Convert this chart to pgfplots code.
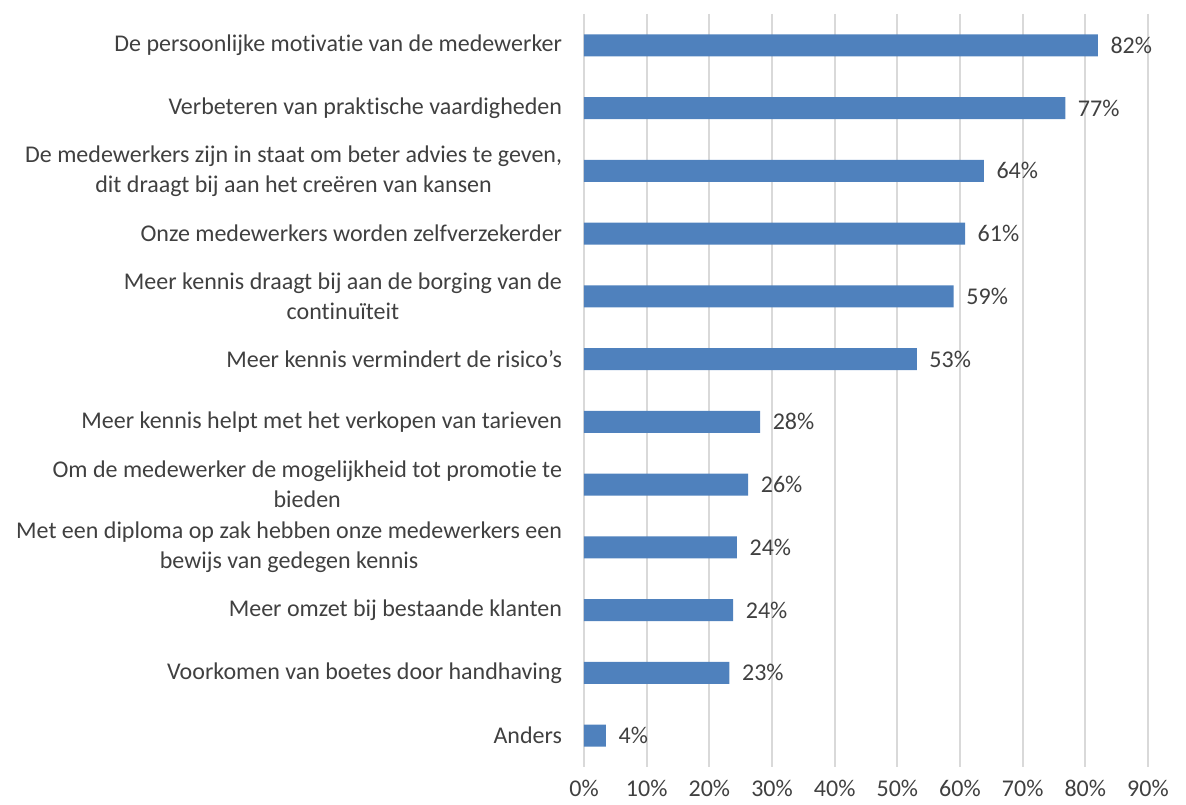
\documentclass[border=0pt]{standalone}
\usepackage{pgfplots}
\pgfplotsset{compat=1.18}
\usepackage{fontspec}
\setmainfont[Ligatures=NoCommon]{Carlito}
\definecolor{barblue}{HTML}{4F81BD}
\definecolor{txtgray}{HTML}{404040}
\definecolor{gridgray}{HTML}{D9D9D9}

\begin{document}
\begin{tikzpicture}[x=1pt,y=1pt]
\useasboundingbox (0,0) rectangle (889.5,603.75);
\begin{axis}[
    at={(438pt,28.5pt)}, anchor=south west,
    scale only axis, width=423pt, height=564.75pt,
    xbar, bar width=16.5pt,
    xmin=0, xmax=90, ymin=-0.5, ymax=11.5,
    y dir=reverse,
    xtick={0,10,...,90},
    xticklabels={0\%,10\%,20\%,30\%,40\%,50\%,60\%,70\%,80\%,90\%},
    ytick={0,...,11},
    yticklabels={
        De persoonlijke motivatie van de medewerker,
        Verbeteren van praktische vaardigheden,
        {De medewerkers zijn in staat om beter advies te geven,\\dit draagt bij aan het creëren van kansen},
        Onze medewerkers worden zelfverzekerder,
        Meer kennis draagt bij aan de borging van de\\continuïteit,
        Meer kennis vermindert de risico’s,
        Meer kennis helpt met het verkopen van tarieven,
        Om de medewerker de mogelijkheid tot promotie te\\bieden,
        Met een diploma op zak hebben onze medewerkers een\\bewijs van gedegen kennis,
        Meer omzet bij bestaande klanten,
        Voorkomen van boetes door handhaving,
        Anders},
    axis line style={draw=none},
    major tick length=0pt,
    xmajorgrids,
    grid style={gridgray, line width=1.3pt},
    tick label style={font=\fontsize{18}{22.5}\selectfont, text=txtgray},
    yticklabel style={align=center, xshift=-13pt},
    xticklabel style={yshift=-9pt, inner sep=1pt},
    nodes near coords={\pgfplotspointmeta\%},
    point meta=explicit symbolic,
    nodes near coords style={anchor=west, xshift=6pt, font=\fontsize{18}{21}\selectfont, text=txtgray},
]
\addplot[fill=barblue, draw=none] table[x=v, y=i, meta=lab] {
i v lab
0 82.0 82
1 76.8 77
2 63.8 64
3 60.8 61
4 59.0 59
5 53.1 53
6 28.1 28
7 26.2 26
8 24.4 24
9 23.8 24
10 23.2 23
11 3.5 4
};
\end{axis}
\end{tikzpicture}
\end{document}
